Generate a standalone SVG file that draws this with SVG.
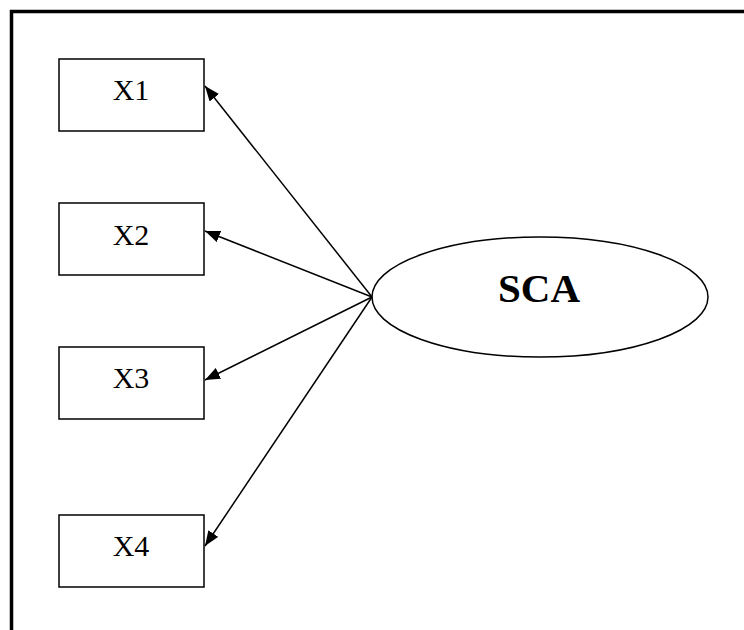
<svg xmlns="http://www.w3.org/2000/svg" width="744" height="630" viewBox="0 0 744 630">
<style>
.box{fill:#fff;stroke:#000;stroke-width:1.5}
.lbl{font-family:"Liberation Serif","Times New Roman",serif;font-size:30px;text-anchor:middle;fill:#000}
.big{font-family:"Liberation Serif","Times New Roman",serif;font-size:41px;font-weight:bold;text-anchor:middle;fill:#000}
.conn{stroke:#000;stroke-width:1.5;fill:none;marker-end:url(#ah)}
</style>
<defs>
<marker id="ah" markerUnits="userSpaceOnUse" markerWidth="16" markerHeight="12" refX="15" refY="6" orient="auto">
<path d="M0,0 L15,6 L0,12 Z" fill="#000"/>
</marker>
</defs>
<rect width="744" height="630" fill="#fff"/>
<path d="M11.5,630 V11.5 H744" fill="none" stroke="#000" stroke-width="3.5"/>
<g id="x1"><rect class="box" x="59" y="59" width="145" height="72"/><text class="lbl" x="131" y="100">X1</text></g>
<g id="x2"><rect class="box" x="59" y="203" width="145" height="72"/><text class="lbl" x="131" y="245">X2</text></g>
<g id="x3"><rect class="box" x="59" y="347" width="145" height="72"/><text class="lbl" x="131" y="388">X3</text></g>
<g id="x4"><rect class="box" x="59" y="515" width="145" height="72"/><text class="lbl" x="131" y="556">X4</text></g>
<g id="sca"><ellipse class="box" cx="540" cy="297" rx="168" ry="60"/><text class="big" x="539" y="302">SCA</text></g>
<g id="connectors">
<line class="conn" x1="372" y1="297" x2="205" y2="86"/>
<line class="conn" x1="372" y1="297" x2="205" y2="231"/>
<line class="conn" x1="372" y1="297" x2="205" y2="380"/>
<line class="conn" x1="372" y1="297" x2="205" y2="546"/>
</g>
</svg>
